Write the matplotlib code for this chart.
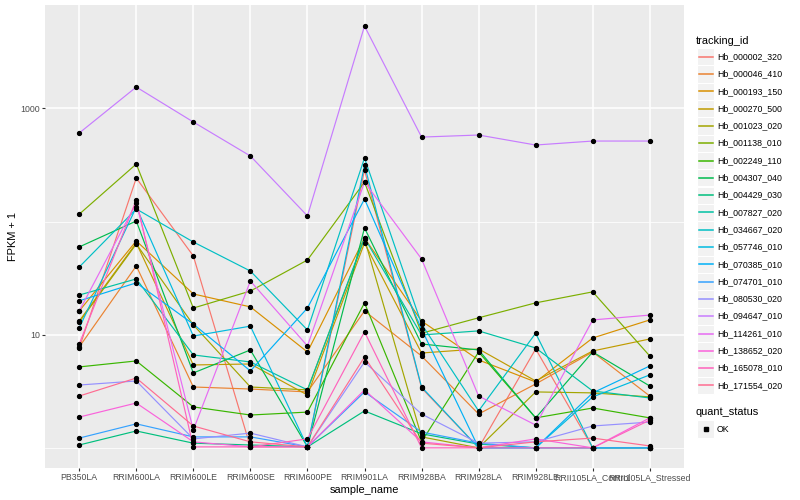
import matplotlib
matplotlib.use("Agg")
import matplotlib.pyplot as plt
from matplotlib.lines import Line2D
from matplotlib.patches import Rectangle
from matplotlib.ticker import FixedLocator, NullFormatter, NullLocator

plt.rcParams['font.family'] = ['Liberation Sans', 'DejaVu Sans']

samples = ["PB350LA", "RRIM600LA", "RRIM600LE", "RRIM600SE", "RRIM600PE",
           "RRIM901LA", "RRIM928BA", "RRIM928LA", "RRIM928LE",
           "RRII105LA_Control", "RRII105LA_Stressed"]

tracking_ids = ["Hb_000002_320", "Hb_000046_410", "Hb_000193_150", "Hb_000270_500",
                "Hb_001023_020", "Hb_001138_010", "Hb_002249_110", "Hb_004307_040",
                "Hb_004429_030", "Hb_007827_020", "Hb_034667_020", "Hb_057746_010",
                "Hb_070385_010", "Hb_074701_010", "Hb_080530_020", "Hb_094647_010",
                "Hb_114261_010", "Hb_138652_020", "Hb_165078_010", "Hb_171554_020"]

colors = ["#F8766D", "#EA8331", "#D89000", "#C09B00", "#A3A500", "#7CAE00",
          "#39B600", "#00BB4E", "#00BF7D", "#00C1A3", "#00BFC4", "#00BAE0",
          "#00B0F6", "#35A2FF", "#9590FF", "#C77CFF", "#E76BF3", "#FA62DB",
          "#FF62BC", "#FF6C91"]

# FPKM + 1 per tracking_id, in sample order
hb_000002_320 = [7.63, 242, 49.6, 1.02, 1.02, 285, 3.38, 1.0, 7.48, 1.0, 1.0]
hb_000046_410 = [7.79, 40.5, 3.45, 3.31, 3.12, 16.2, 6.48, 1.99, 3.67, 7.03, 2.87]
hb_000193_150 = [16.2, 67.3, 22.9, 17.6, 7.03, 71.5, 13.2, 5.98, 3.82, 9.35, 13.5]
hb_000270_500 = [13.2, 64.6, 5.40, 5.51, 2.93, 64.6, 6.89, 7.48, 3.90, 7.18, 9.16]
hb_001023_020 = [12.9, 63.3, 12.2, 3.45, 3.25, 70.1, 1.25, 1.0, 3.12, 3.06, 2.82]
hb_001138_010 = [116, 322, 17.2, 24.3, 45.7, 223, 10.3, 14.1, 19.1, 23.9, 6.48]
hb_002249_110 = [5.19, 5.86, 2.30, 1.95, 2.07, 19.1, 1.13, 7.03, 1.84, 2.25, 1.84]
hb_004307_040 = [59.6, 101, 4.59, 7.33, 1.02, 87.7, 8.28, 7.33, 1.84, 7.03, 3.52]
hb_004429_030 = [1.06, 1.41, 1.10, 1.06, 1.02, 2.12, 1.33, 1.08, 1.0, 1.0, 1.0]
hb_007827_020 = [22.4, 31.1, 6.62, 5.74, 3.25, 71.5, 9.94, 10.8, 7.63, 3.18, 2.76]
hb_034667_020 = [39.6, 129, 65.9, 36.5, 11.0, 364, 12.4, 2.12, 10.3, 1.0, 1.0]
hb_057746_010 = [11.5, 134, 9.73, 11.9, 1.02, 316, 3.45, 1.0, 1.0, 2.82, 4.41]
hb_070385_010 = [19.9, 28.7, 12.4, 4.78, 17.2, 158, 11.2, 1.0, 1.0, 3.06, 5.29]
hb_074701_010 = [1.22, 1.63, 1.25, 1.25, 1.02, 3.12, 1.38, 1.10, 1.0, 1.0, 1.0]
hb_080530_020 = [3.59, 3.90, 1.20, 1.35, 1.02, 5.74, 1.99, 1.10, 1.13, 1.56, 1.69]
hb_094647_010 = [605, 1542, 757, 379, 112, 5330, 557, 581, 474, 514, 514]
hb_114261_010 = [16.2, 146, 1.44, 29.8, 7.95, 223, 46.7, 2.87, 1.59, 13.5, 14.9]
hb_138652_020 = [1.87, 2.49, 1.13, 1.02, 1.02, 3.25, 1.13, 1.0, 1.20, 1.0, 1.84]
hb_165078_010 = [8.28, 155, 1.02, 1.02, 1.20, 10.6, 1.0, 1.0, 1.0, 1.0, 1.76]
hb_171554_020 = [2.87, 4.14, 1.56, 1.13, 1.02, 6.35, 1.10, 1.0, 1.13, 1.22, 1.04]

series = [hb_000002_320, hb_000046_410, hb_000193_150, hb_000270_500, hb_001023_020,
          hb_001138_010, hb_002249_110, hb_004307_040, hb_004429_030, hb_007827_020,
          hb_034667_020, hb_057746_010, hb_070385_010, hb_074701_010, hb_080530_020,
          hb_094647_010, hb_114261_010, hb_138652_020, hb_165078_010, hb_171554_020]

W, H = 800, 500
fig = plt.figure(figsize=(8, 5), dpi=100, facecolor="white")
L, R, T, B = 45, 684, 5, 468
ax = fig.add_axes([L / W, 1 - B / H, (R - L) / W, (B - T) / H])
ax.set_facecolor("#EBEBEB")
for s in ax.spines.values():
    s.set_visible(False)

xs = list(range(len(samples)))
for vals, c in zip(series, colors):
    ax.plot(xs, vals, color=c, lw=0.85, zorder=2)
for vals in series:
    ax.plot(xs, vals, linestyle="none", marker="o", ms=2.8, color="black",
            mec="black", zorder=3)

ax.set_yscale("log")
ax.set_ylim(10 ** -0.178, 10 ** 3.913)
ax.set_xlim(-0.6, len(samples) - 1 + 0.6)

ax.yaxis.set_major_locator(FixedLocator([10, 1000]))
ax.set_yticklabels(["10", "1000"])
ax.yaxis.set_minor_locator(FixedLocator([1, 100, 10000]))
ax.yaxis.set_minor_formatter(NullFormatter())
ax.set_xticks(xs)
ax.set_xticklabels(samples)
ax.xaxis.set_minor_locator(NullLocator())

fs_tick = 8.8 * 0.72
fs_title = 11 * 0.72
ax.tick_params(axis="both", which="major", labelsize=fs_tick, labelcolor="#4D4D4D",
               color="#333333", length=2.0, width=0.8, pad=1.5)
ax.tick_params(axis="y", which="minor", length=0)

ax.set_axisbelow(True)
ax.grid(which="major", color="white", lw=1.1)
ax.yaxis.grid(which="minor", color="white", lw=0.55)

ax.set_xlabel("sample_name", fontsize=fs_title, labelpad=2)
ax.set_ylabel("FPKM + 1", fontsize=fs_title, labelpad=2)

# legend (drawn in figure pixel coordinates)
def fx(px):
    return px / W

def fy(py):
    return 1 - py / H

fig.text(fx(696), fy(41), "tracking_id", fontsize=fs_title, va="center", ha="left")
step = 17.3
for i, (name, c) in enumerate(zip(tracking_ids, colors)):
    cy = 56.7 + i * step
    fig.add_artist(Rectangle((fx(697), fy(cy + 8.6)), 17 / W, 17.2 / H,
                             transform=fig.transFigure, facecolor="#F2F2F2",
                             edgecolor="white", lw=0.8))
    fig.add_artist(Line2D([fx(698.5), fx(712.5)], [fy(cy), fy(cy)],
                          transform=fig.transFigure, color=c, lw=1.1))
    fig.text(fx(717), fy(cy), name, fontsize=fs_tick, va="center", ha="left")

fig.text(fx(696), fy(412), "quant_status", fontsize=fs_title, va="center", ha="left")
fig.add_artist(Rectangle((fx(697), fy(429 + 8.6)), 17 / W, 17.2 / H,
                         transform=fig.transFigure, facecolor="#F2F2F2",
                         edgecolor="white", lw=0.8))
fig.add_artist(Line2D([fx(705.5)], [fy(429)], transform=fig.transFigure,
                      marker="s", ms=2.6, color="black", linestyle="none"))
fig.text(fx(717), fy(429), "OK", fontsize=fs_tick, va="center", ha="left")

fig.savefig("out.png", dpi=100, facecolor="white")
